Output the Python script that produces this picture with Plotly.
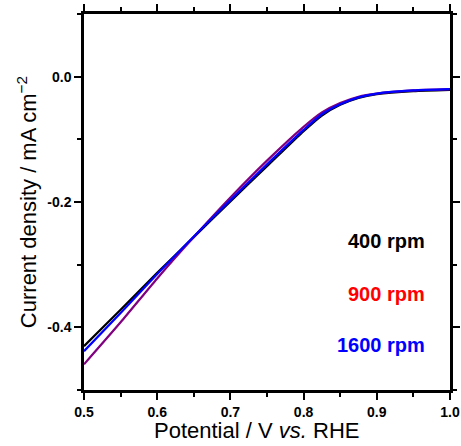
import plotly.graph_objects as go

potential = [0.5, 0.55, 0.6, 0.65, 0.7, 0.75, 0.8, 0.825, 0.85, 0.875, 0.9, 0.95, 1.0]
j_400 = [-0.430, -0.372, -0.313, -0.256, -0.199, -0.143, -0.087, -0.062, -0.045, -0.034, -0.028, -0.023, -0.021]
j_900 = [-0.459, -0.392, -0.322, -0.256, -0.193, -0.134, -0.080, -0.057, -0.042, -0.032, -0.027, -0.022, -0.020]
j_1600 = [-0.438, -0.377, -0.315, -0.255, -0.197, -0.140, -0.085, -0.060, -0.044, -0.033, -0.027, -0.022, -0.020]

labels = ["400 rpm", "900 rpm", "1600 rpm"]
label_colors = ["black", "red", "blue"]
label_y = [-0.262, -0.347, -0.428]
line_colors = ["black", "#800080", "blue"]

xticks = [0.5, 0.6, 0.7, 0.8, 0.9, 1.0]
xticktext = ["0.5", "0.6", "0.7", "0.8", "0.9", "1.0"]
yticks = [0.0, -0.2, -0.4]
yticktext = ["0.0", "-0.2", "-0.4"]

fig = go.Figure()
for ys, c in zip([j_400, j_900, j_1600], line_colors):
    fig.add_trace(go.Scatter(x=potential, y=ys, mode="lines",
                             line=dict(color=c, width=2.2, shape="spline", smoothing=0.6),
                             showlegend=False, hoverinfo="skip"))

for t, c, yv in zip(labels, label_colors, label_y):
    fig.add_annotation(x=0.9686, y=yv, xref="x", yref="y", text=f"<b>{t}</b>",
                       showarrow=False, xanchor="right", yanchor="middle",
                       font=dict(family="Liberation Sans, Arial", size=20, color=c))

# x-axis title (placed slightly left of centre as in the reference)
fig.add_annotation(x=0.47, y=-0.107, xref="paper", yref="paper",
                   text="Potential / V <i>vs.</i> RHE", showarrow=False,
                   xanchor="center", yanchor="middle",
                   font=dict(family="Liberation Sans, Arial", size=22, color="black"))

axis_common = dict(showline=True, linewidth=2.5, linecolor="black", mirror="ticks",
                   ticks="outside", ticklen=7, tickwidth=2, tickcolor="black",
                   showgrid=False, zeroline=False, automargin=False,
                   tickfont=dict(family="Liberation Sans, Arial", size=14, color="black", weight="bold"),
                   title_font=dict(family="Liberation Sans, Arial", size=22, color="black"))

fig.update_xaxes(range=[0.5, 1.0], tickvals=xticks, ticktext=xticktext,
                 minor=dict(dtick=0.05, ticks="outside", ticklen=4, tickwidth=2, tickcolor="black", showgrid=False),
                 **axis_common)
fig.update_yaxes(range=[-0.5, 0.1], tickvals=yticks, ticktext=yticktext,
                 minor=dict(tickvals=[0.1, -0.1, -0.3, -0.5], ticks="outside", ticklen=4, tickwidth=2, tickcolor="black", showgrid=False),
                 title=dict(text="Current density / mA cm<sup>−2</sup>", standoff=5), **axis_common)

fig.update_layout(width=461, height=446, margin=dict(l=84, r=11, t=14, b=56),
                  plot_bgcolor="white", paper_bgcolor="white")
fig.write_html("out.html", config={"displayModeBar": False},
               post_script="document.body.style.margin='0';document.body.style.padding='0';document.body.style.overflow='hidden';")
